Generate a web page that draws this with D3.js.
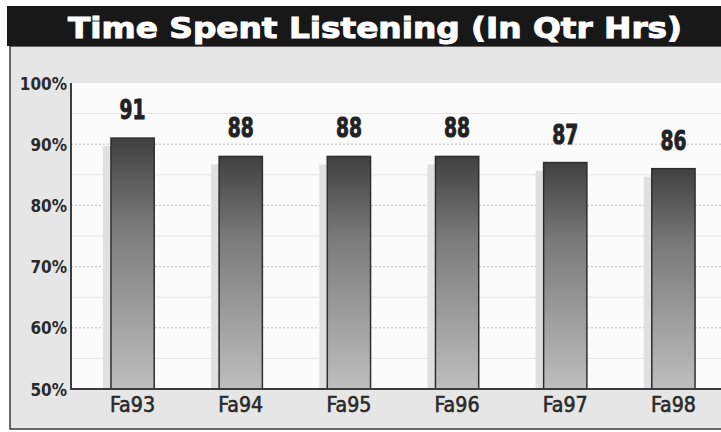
<!DOCTYPE html>
<html>
<head>
<meta charset="utf-8">
<script src="https://cdn.jsdelivr.net/npm/d3@7"></script>
<style>
  body { margin: 0; background: #fff; }
</style>
</head>
<body>
<div id="canvas"></div>
<script>
const seasons = ["Fa93", "Fa94", "Fa95", "Fa96", "Fa97", "Fa98"];
const tslValues = [91, 88, 88, 88, 87, 86];
const yTicks = [50, 60, 70, 80, 90, 100];
const minorTicks = [55, 65, 75, 85, 95];
const titleText = "Time Spent Listening (In Qtr Hrs)";

const W = 721, H = 432;
let plot = { left: 71, right: 721, top: 83, bottom: 389 };
const condensed = "'DejaVu Sans Condensed', 'DejaVu Sans', sans-serif";

let svg = d3.select("#canvas")
  .append("svg")
  .attr("width", W)
  .attr("height", H);

// gradient for the bars
let defs = svg.append("defs");
let grad = defs.append("linearGradient")
  .attr("id", "barGrad")
  .attr("x1", 0).attr("y1", 0).attr("x2", 0).attr("y2", 1);
grad.append("stop").attr("offset", "0%").attr("stop-color", "#404040");
grad.append("stop").attr("offset", "35%").attr("stop-color", "#7a7a7a");
grad.append("stop").attr("offset", "100%").attr("stop-color", "#bebebe");

// outer frame + title bar
svg.append("rect")
  .attr("x", 10).attr("y", 46)
  .attr("width", 720).attr("height", 383)
  .attr("fill", "#e6e6e6")
  .attr("stroke", "#3a3a3a")
  .attr("stroke-width", 1.5);

svg.append("rect")
  .attr("x", 7).attr("y", 6)
  .attr("width", 720).attr("height", 40)
  .attr("fill", "#181818");

svg.append("text")
  .attr("x", 375).attr("y", 38)
  .attr("text-anchor", "middle")
  .attr("textLength", 614)
  .attr("lengthAdjust", "spacingAndGlyphs")
  .style("font-family", "'DejaVu Sans', sans-serif")
  .style("font-weight", "bold")
  .style("font-size", "28px")
  .style("fill", "#ffffff")
  .style("stroke", "#ffffff")
  .style("stroke-width", 1)
  .text(titleText);

// plot area
svg.append("rect")
  .attr("x", plot.left).attr("y", plot.top)
  .attr("width", plot.right - plot.left).attr("height", plot.bottom - plot.top)
  .attr("fill", "#fbfbfb");

let y = d3.scaleLinear()
  .domain([50, 100])
  .range([plot.bottom, plot.top]);

let x = d3.scaleBand()
  .domain(seasons)
  .range([78.5, 727.5])
  .paddingInner(0.6)
  .paddingOuter(0.3);

// gridlines
svg.selectAll(".minor-grid")
  .data(minorTicks)
  .enter()
  .append("line")
  .attr("class", "minor-grid")
  .attr("x1", plot.left).attr("x2", plot.right)
  .attr("y1", d => y(d)).attr("y2", d => y(d))
  .attr("stroke", "#e4e4e4")
  .attr("stroke-width", 1);

svg.selectAll(".major-grid")
  .data(yTicks.filter(d => d > 50 && d < 100))
  .enter()
  .append("line")
  .attr("class", "major-grid")
  .attr("x1", plot.left).attr("x2", plot.right)
  .attr("y1", d => y(d)).attr("y2", d => y(d))
  .attr("stroke", "#bcbcbc")
  .attr("stroke-width", 1)
  .attr("stroke-dasharray", "2,2");

// soft halo on the left of each bar
svg.selectAll(".halo")
  .data(tslValues)
  .enter()
  .append("rect")
  .attr("class", "halo")
  .attr("x", (d, i) => x(seasons[i]) - 8)
  .attr("y", d => y(d) + 8)
  .attr("width", 8)
  .attr("height", d => plot.bottom - y(d) - 8)
  .attr("fill", "#e0e0e0");

// bars
svg.selectAll(".bar")
  .data(tslValues)
  .enter()
  .append("rect")
  .attr("class", "bar")
  .attr("x", (d, i) => x(seasons[i]))
  .attr("y", d => y(d))
  .attr("width", x.bandwidth())
  .attr("height", d => plot.bottom - y(d))
  .attr("fill", "url(#barGrad)")
  .attr("stroke", "#2e2e2e")
  .attr("stroke-width", 1.5);

// value labels (narrowed to match the condensed print face)
svg.selectAll(".val")
  .data(tslValues)
  .enter()
  .append("text")
  .attr("class", "val")
  .attr("x", (d, i) => x(seasons[i]) + x.bandwidth() / 2)
  .attr("y", d => y(d) - 19)
  .attr("text-anchor", "middle")
  .attr("textLength", 26)
  .attr("lengthAdjust", "spacingAndGlyphs")
  .style("font-family", condensed)
  .style("font-weight", "bold")
  .style("font-size", "27px")
  .style("fill", "#222")
  .style("stroke", "#222")
  .style("stroke-width", 0.9)
  .text(d => d);

// y axis
let yAxis = svg.append("g")
  .attr("transform", "translate(" + (plot.left - 4) + ",0)")
  .call(d3.axisLeft(y).tickValues(yTicks).tickSize(0).tickPadding(0).tickFormat(d => d + "%"));
yAxis.select(".domain").remove();
yAxis.selectAll("text")
  .attr("dy", "0.36em")
  .style("font-family", condensed)
  .style("font-weight", "bold")
  .style("font-size", "17px")
  .style("fill", "#2a2a2a");

// x axis
let xAxis = svg.append("g")
  .attr("transform", "translate(0," + plot.bottom + ")")
  .call(d3.axisBottom(x).tickSize(0).tickPadding(7));
xAxis.select(".domain").remove();
xAxis.selectAll("text")
  .attr("dy", "0.71em")
  .attr("textLength", 45)
  .attr("lengthAdjust", "spacingAndGlyphs")
  .style("font-family", condensed)
  .style("font-size", "22px")
  .style("fill", "#2a2a2a")
  .style("stroke", "#2a2a2a")
  .style("stroke-width", 0.6);

// axis lines
svg.append("line")
  .attr("x1", plot.left).attr("x2", plot.left)
  .attr("y1", plot.top).attr("y2", plot.bottom + 1)
  .attr("stroke", "#3c3c3c").attr("stroke-width", 2);
svg.append("line")
  .attr("x1", plot.left).attr("x2", plot.right)
  .attr("y1", plot.bottom).attr("y2", plot.bottom)
  .attr("stroke", "#3c3c3c").attr("stroke-width", 2);
</script>
</body>
</html>
